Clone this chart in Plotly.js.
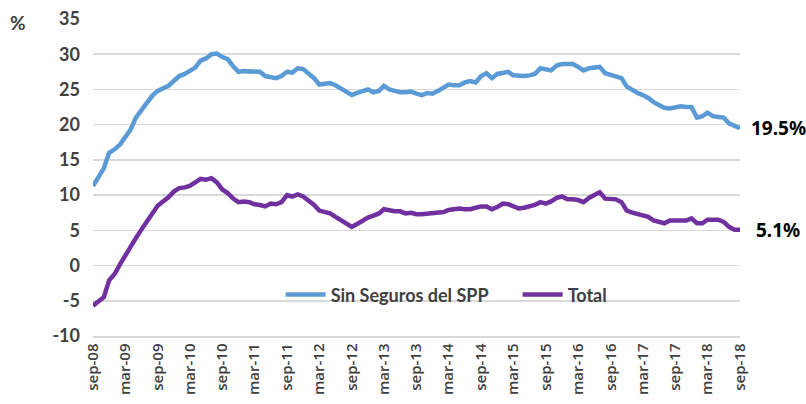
<!DOCTYPE html>
<html>
<head>
<meta charset="utf-8">
<script src="https://cdn.plot.ly/plotly-3.0.1.min.js"></script>
<style>
html,body{margin:0;padding:0;background:#fff;}
#chart{width:806px;height:404px;}
</style>
</head>
<body>
<div id="chart"></div>
<script>
// Monthly observations, sep-2008 .. sep-2018
const startYear = 2008, startMonth = 9;
const sinSeguros = [
11.3,12.6,13.8,16.0,16.5,17.2,18.2,19.3,21.0,22.0,23.2,24.1,24.8,25.2,25.5,26.2,26.9,27.2,27.6,28.1,
29.1,29.4,30.0,30.1,29.6,29.3,28.3,27.5,27.6,27.6,27.5,27.5,26.9,26.8,26.6,26.9,27.5,27.4,28.0,27.9,
27.3,26.6,25.7,25.8,25.9,25.6,25.1,24.6,24.2,24.5,24.7,25.0,24.6,24.8,25.5,25.0,24.8,24.6,24.6,24.7,
24.4,24.2,24.5,24.4,24.8,25.2,25.7,25.6,25.6,26.0,26.2,26.0,26.9,27.3,26.6,27.2,27.4,27.5,27.0,26.9,
26.9,27.0,27.2,28.0,27.9,27.7,28.4,28.6,28.6,28.6,28.2,27.7,28.0,28.1,28.2,27.3,27.1,26.8,26.6,25.4,
24.9,24.5,24.2,23.8,23.2,22.8,22.4,22.3,22.5,22.6,22.5,22.5,21.0,21.2,21.7,21.2,21.1,21.0,20.2,19.9,
19.5];
const total = [
-5.7,-5.1,-4.5,-2.1,-1.2,0.2,1.4,2.8,3.9,5.1,6.3,7.3,8.5,9.1,9.7,10.5,11.0,11.1,11.3,11.8,
12.3,12.2,12.4,11.8,10.8,10.3,9.5,9.0,9.1,9.0,8.7,8.6,8.4,8.8,8.7,9.0,10.0,9.8,10.1,9.8,
9.2,8.6,7.8,7.6,7.4,6.9,6.5,6.0,5.5,5.9,6.4,6.8,7.1,7.4,8.0,7.8,7.7,7.7,7.4,7.5,
7.3,7.3,7.4,7.4,7.5,7.6,7.9,8.0,8.1,8.0,8.0,8.2,8.4,8.4,8.0,8.3,8.8,8.7,8.4,8.1,
8.2,8.4,8.6,9.0,8.8,9.1,9.6,9.8,9.4,9.4,9.3,9.0,9.6,10.0,10.4,9.5,9.5,9.4,9.0,7.8,
7.5,7.3,7.0,6.9,6.4,6.2,6.0,6.4,6.4,6.3,6.4,6.7,6.0,6.0,6.5,6.5,6.5,6.2,5.5,5.1,
5.1];
const xTickVals = ['2008-09-01','2009-03-01','2009-09-01','2010-03-01','2010-09-01','2011-03-01',
'2011-09-01','2012-03-01','2012-09-01','2013-03-01','2013-09-01','2014-03-01','2014-09-01',
'2015-03-01','2015-09-01','2016-03-01','2016-09-01','2017-03-01','2017-09-01','2018-03-01','2018-09-01'];
const xTickText = ['sep-08','mar-09','sep-09','mar-10','sep-10','mar-11','sep-11','mar-12','sep-12',
'mar-13','sep-13','mar-14','sep-14','mar-15','sep-15','mar-16','sep-16','mar-17','sep-17','mar-18','sep-18'];
const yTickVals = [-10, -5, 0, 5, 10, 15, 20, 25, 30, 35];
const yTickText = ['-10', '-5', '0', '5', '10', '15', '20', '25', '30', '35'];
const endLabels = ['19.5%', '5.1%'];

const dates = sinSeguros.map((_, i) => {
  const t = (startMonth - 1) + i;
  const y = startYear + Math.floor(t / 12);
  const m = (t % 12) + 1;
  return y + '-' + String(m).padStart(2, '0') + '-01';
});
const last = dates[dates.length - 1];

const traces = [
  {x: dates, y: sinSeguros, type: 'scatter', mode: 'lines', name: 'Sin Seguros del SPP',
   line: {color: '#5b9bd5', width: 4.5}},
  {x: dates, y: total, type: 'scatter', mode: 'lines', name: 'Total',
   line: {color: '#7030a0', width: 4.5}}
];

const layout = {
  width: 806, height: 404,
  margin: {l: 93, r: 66, t: 19, b: 68},
  paper_bgcolor: '#fff', plot_bgcolor: '#fff',
  showlegend: true,
  legend: {orientation: 'h', x: 0.29, y: 0.13, xanchor: 'left', yanchor: 'middle',
    bgcolor: 'rgba(0,0,0,0)', font: {family: 'Lato', size: 18, color: '#404040', weight: 'bold'},
    itemwidth: 40, entrywidth: 182, entrywidthmode: 'pixels', tracegroupgap: 0},
  xaxis: {
    type: 'date', range: [dates[0], last],
    tickmode: 'array', tickvals: xTickVals, ticktext: xTickText, tickangle: -90,
    tickfont: {family: 'Open Sans', size: 15, color: '#404040', weight: 600},
    showgrid: false, zeroline: false, showline: true, linecolor: '#d9d9d9', linewidth: 1.5,
    ticks: '', fixedrange: true
  },
  yaxis: {
    range: [-10, 35], tickmode: 'array', tickvals: yTickVals, ticktext: yTickText,
    tickfont: {family: 'Lato', size: 18, color: '#404040', weight: 'bold'},
    showgrid: true, gridcolor: '#d9d9d9', gridwidth: 1.5, zeroline: false,
    showline: false, ticks: '', ticklabelstandoff: 12
  },
  annotations: [
    {xref: 'paper', yref: 'paper', x: -0.132, y: 0.99, xanchor: 'left', yanchor: 'middle',
     text: '%', showarrow: false, font: {family: 'Lato', size: 19, color: '#404040', weight: 'bold'}},
    {x: last, y: sinSeguros[sinSeguros.length - 1], xanchor: 'left', yanchor: 'middle', xshift: 9,
     text: endLabels[0], showarrow: false, font: {family: 'Noto Sans', size: 19, color: '#000', weight: 'bold'}},
    {x: last, y: total[total.length - 1], xanchor: 'left', yanchor: 'middle', xshift: 14,
     text: endLabels[1], showarrow: false, font: {family: 'Noto Sans', size: 19, color: '#000', weight: 'bold'}}
  ]
};

Plotly.newPlot('chart', traces, layout, {displayModeBar: false, staticPlot: true});
</script>
</body>
</html>
